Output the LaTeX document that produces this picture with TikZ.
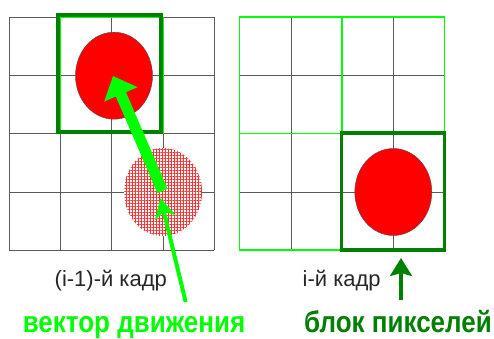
\documentclass[tikz,border=0pt]{standalone}
\usepackage{fontspec}
\setmainfont{Liberation Sans}
\usetikzlibrary{arrows.meta,patterns,patterns.meta,calc,shapes.geometric}
\definecolor{lgreen}{RGB}{0,255,0}
\definecolor{dgreen}{RGB}{0,128,0}
\definecolor{gridc}{RGB}{90,90,90}
\tikzset{
  gridline/.style={draw=gridc, line width=0.9pt},
  lgline/.style={draw=lgreen, line width=1.6pt},
  blockbox/.style={draw=dgreen, line width=3.8pt},
  redell/.style={fill=red, draw=black!70, line width=0.4pt},
  hatchlines/.style={pattern color=red!80, pattern={Lines[angle=#1,distance=3pt,line width=0.9pt]}},
  caption/.style={font=\fontsize{22}{24}\selectfont, text=black!85, inner sep=0pt, anchor=base},
  biglabel/.style={font=\bfseries\fontsize{26}{28}\selectfont, inner sep=0pt, anchor=base}
}
\begin{document}
\begin{tikzpicture}[x=1pt,y=-1pt]
\useasboundingbox (0,0) rectangle (494,338);
% ---- left grid
\foreach \x in {9,60,111.5,163,214} \draw[gridline] (\x,17) -- (\x,250);
\foreach \y in {17,75.5,133.5,192,250} \draw[gridline] (9,\y) -- (214,\y);
% ---- right grid
\foreach \x in {239.3,291,342,393.3,444.3} \draw[gridline] (\x,17) -- (\x,250);
\foreach \y in {17,75.5,133.5,192,250} \draw[gridline] (239.3,\y) -- (444.3,\y);
\draw[lgline] (239.3,17) rectangle (444.3,250);
\draw[lgline] (342,17) -- (342,250);
\draw[lgline] (239.3,133.5) -- (444.3,133.5);
% ---- left objects
\draw[lgline, line width=1pt] (60,17) rectangle (163,133.5);
\node[ellipse, minimum width=77pt, minimum height=87pt, redell, inner sep=0pt] (obj1) at (114,75.7) {};
\path[fill=white] (163,192) ellipse [x radius=39, y radius=44];
\path[hatchlines=0] (163,192) ellipse [x radius=39, y radius=44];
\path[hatchlines=90] (163,192) ellipse [x radius=39, y radius=44];
\coordinate (hatchc) at (163,192);
\draw[blockbox] (58,15) rectangle (161.3,132.3);
% ---- right objects
\draw[blockbox] (341.5,133) rectangle (444.5,250.3);
\node[ellipse, minimum width=77pt, minimum height=87pt, redell, inner sep=0pt] (obj2) at (393.3,192) {};
% ---- arrows
\coordinate (vtail) at (162.5,191);
\coordinate (vtip) at (113,76);
\draw[lgreen, line width=11pt, -{Triangle[width=35pt,length=20pt]}] (vtail) -- (vtip);
\coordinate (lblA) at (185.7,302);
\coordinate (lblAtip) at (160.5,198);
\draw[lgreen, line width=4pt, -{Stealth[width=21pt,length=20pt,inset=6pt]}] (lblA) -- (lblAtip);
\coordinate (lblB) at (401,300);
\coordinate (lblBtip) at (401,258);
\draw[dgreen, line width=3.5pt, -{Stealth[width=22pt,length=18pt,inset=3pt]}] (lblB) -- (lblBtip);
% ---- texts
\node[caption] (cap1) at (110.8,286.5) {(i-1)-й кадр};
\node[caption] (cap2) at (341.7,286.5) {i-й кадр};
\node[biglabel, text=lgreen] (mv) at (134,332) {\scalebox{1}[1.15]{вектор движения}};
\node[biglabel, text=dgreen] (pb) at (398,332) {\scalebox{1}[1.15]{блок пикселей}};
\end{tikzpicture}
\end{document}
